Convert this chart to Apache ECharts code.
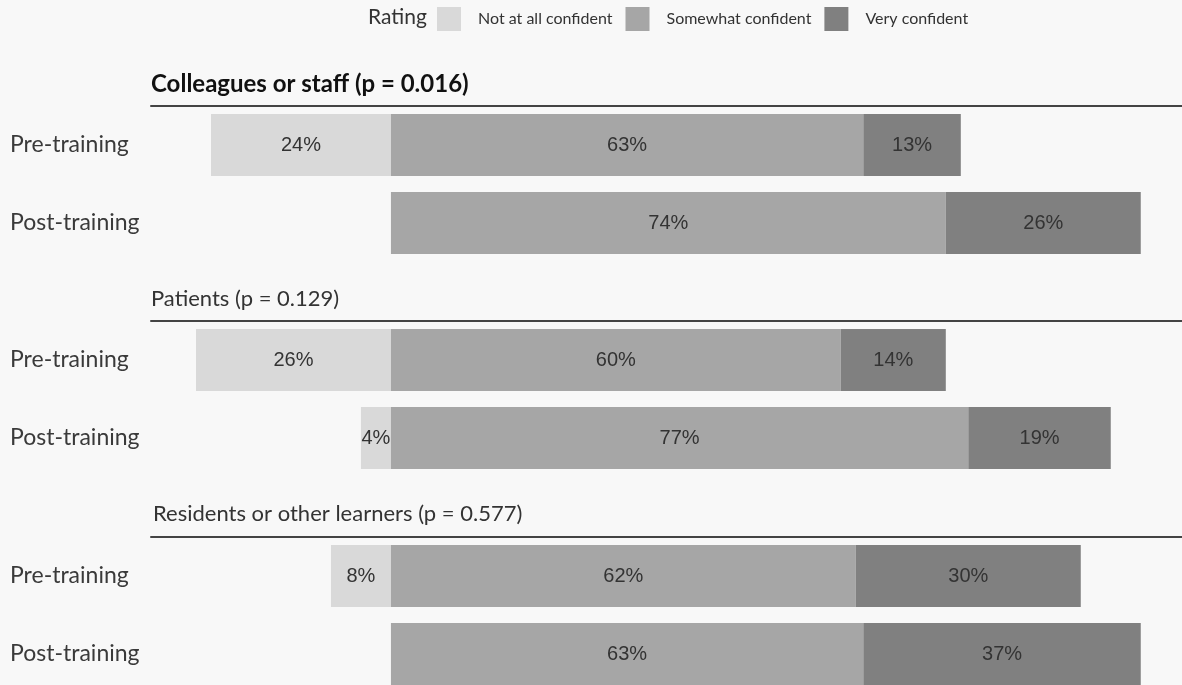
<!DOCTYPE html>
<html>
<head>
<meta charset="utf-8">
<title>Confidence ratings</title>
<script src="https://cdn.jsdelivr.net/npm/echarts@6/dist/echarts.min.js"></script>
<style>
    html, body { margin: 0; padding: 0; background: #f8f8f8; }
    #main { width: 1182px; height: 685px; }
</style>
</head>
<body>
<div id="main"></div>
<script>
"use strict"

// 数据
let groups = ["Pre-training", "Post-training"];
let ratings = ["Not at all confident", "Somewhat confident", "Very confident"];
let panelTitles = ["Colleagues or staff (p = 0.016)", "Patients (p = 0.129)", "Residents or other learners (p = 0.577)"];
// 每个面板: [Pre, Post]
let notAtAll = [[24, 0], [26, 4], [8, 0]];
let somewhat = [[63, 74], [60, 77], [62, 63]];
let very = [[13, 26], [14, 19], [30, 37]];

let colors = ["#d9d9d9", "#a6a6a6", "#808080"];

showChart();

function showChart() {
    var myChart = echarts.init(document.getElementById("main"));

    let panelTops = [106, 321, 537];
    let titleTops = [72, 288, 503];
    let panelHeight = 156;

    var grids = [], xAxes = [], yAxes = [], series = [], titles = [];

    panelTops.forEach(function (top, i) {
        grids.push({
            left: 151,
            right: 0,
            top: top,
            height: panelHeight,
            outerBoundsMode: "none"
        });
        xAxes.push({
            type: "value",
            gridIndex: i,
            position: "top",
            min: -32,
            max: 105.5,
            axisLine: { show: true, lineStyle: { color: "#444", width: 2 } },
            axisTick: { show: false },
            axisLabel: { show: false },
            splitLine: { show: false }
        });
        yAxes.push({
            type: "category",
            gridIndex: i,
            inverse: true,
            data: groups,
            axisLine: { show: false },
            axisTick: { show: false },
            axisLabel: {
                align: "left",
                margin: 141,
                fontFamily: "Lato",
                fontSize: 23,
                color: "#3a3a3a"
            }
        });
        titles.push({
            text: panelTitles[i],
            left: i === 2 ? 153 : 151,
            top: titleTops[i],
            padding: 0,
            textStyle: {
                fontFamily: "Lato",
                fontSize: i === 0 ? 24 : 22,
                fontWeight: i === 0 ? "bold" : "normal",
                color: i === 0 ? "#111" : "#333"
            }
        });

        let vals = [notAtAll[i].map(function (v) { return -v; }), somewhat[i], very[i]];
        vals.forEach(function (d, k) {
            series.push({
                name: ratings[k],
                type: "bar",
                xAxisIndex: i,
                yAxisIndex: i,
                stack: "p" + i,
                barWidth: 62,
                data: d.map(function (v) { return v === 0 ? null : v; }),
                itemStyle: { color: colors[k] },
                label: {
                    show: true,
                    position: "inside",
                    formatter: function (p) { return Math.abs(p.value) + "%"; },
                    fontFamily: "Liberation Sans",
                    fontSize: 20,
                    color: "#333"
                },
                emphasis: { disabled: true }
            });
        });
    });

    titles.push({
        text: "Rating",
        left: 368,
        top: 7,
        padding: 0,
        textStyle: { fontFamily: "Lato", fontSize: 21, fontWeight: "normal", color: "#333" }
    });

    var option = {
        backgroundColor: "#f8f8f8",
        animation: false,
        title: titles,
        legend: {
            left: 437,
            top: 7,
            padding: 0,
            data: ratings,
            itemWidth: 24,
            itemHeight: 24,
            itemGap: 13,
            icon: "rect",
            textStyle: {
                fontFamily: "Lato",
                fontSize: 16,
                color: "#333",
                padding: [0, 0, 0, 12]
            }
        },
        grid: grids,
        xAxis: xAxes,
        yAxis: yAxes,
        series: series
    };

    myChart.setOption(option);
}
</script>
</body>
</html>
